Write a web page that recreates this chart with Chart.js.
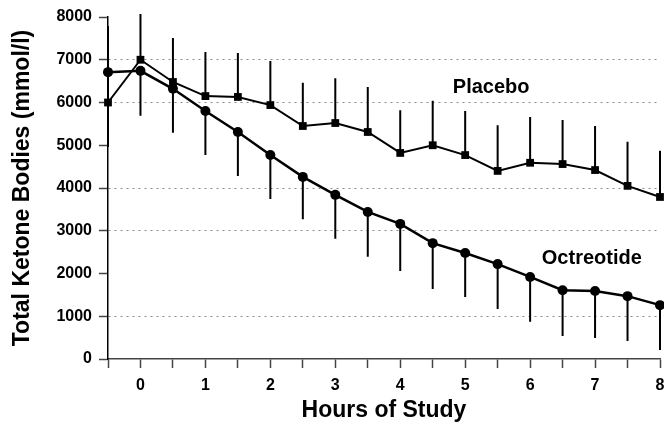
<!DOCTYPE html>
<html>
<head>
<meta charset="utf-8">
<script src="https://cdn.jsdelivr.net/npm/chart.js@4.4.0/dist/chart.umd.min.js"></script>
<style>
    html, body { margin: 0; padding: 0; background: #fff; }
    #wrap { width: 664px; height: 428px; }
</style>
</head>
<body>
<div id="wrap"><canvas id="ketoneChart"></canvas></div>
<script>
    // Hours of study (every half hour)
    const hours = [-0.5, 0, 0.5, 1, 1.5, 2, 2.5, 3, 3.5, 4, 4.5, 5, 5.5, 6, 6.5, 7, 7.5, 8];

    // Placebo means and top of error bars (mmol/l)
    const placebo    = [6000, 7000, 6480, 6150, 6130, 5940, 5450, 5520, 5310, 4820, 5000, 4770, 4400, 4590, 4560, 4420, 4050, 3790];
    const placeboTop = [7790, 8070, 7510, 7180, 7160, 6970, 6460, 6570, 6360, 5820, 6040, 5800, 5470, 5660, 5590, 5450, 5080, 4870];

    // Octreotide means and bottom of error bars (mmol/l)
    const octreotide    = [6710, 6740, 6320, 5800, 5310, 4770, 4260, 3840, 3440, 3160, 2710, 2480, 2220, 1920, 1610, 1590, 1470, 1260];
    const octreotideLow = [4960, 5690, 5290, 4770, 4280, 3740, 3270, 2810, 2390, 2060, 1640, 1450, 1170, 870, 540, 490, 420, 210];

    // Dotted reference lines drawn across the plot
    const refLines = [1000, 3000, 4000, 6000, 7000];

    const FONT = '"Liberation Sans", Arial, sans-serif';

    /**
     * Draws the one-sided error bars under the lines
     */
    const errorBars = {
        id: 'errorBars',
        beforeDatasetsDraw(chart) {
            const ctx = chart.ctx;
            const x = chart.scales.x;
            const y = chart.scales.y;
            ctx.save();
            ctx.strokeStyle = '#000';
            ctx.lineWidth = 2;
            hours.forEach(function(h, i) {
                const px = x.getPixelForValue(h);
                ctx.beginPath();
                ctx.moveTo(px, y.getPixelForValue(placebo[i]));
                ctx.lineTo(px, y.getPixelForValue(placeboTop[i]));
                ctx.moveTo(px, y.getPixelForValue(octreotide[i]));
                ctx.lineTo(px, y.getPixelForValue(octreotideLow[i]));
                ctx.stroke();
            });
            ctx.restore();
        }
    };

    /**
     * Series names written beside the lines
     */
    const seriesLabels = {
        id: 'seriesLabels',
        afterDatasetsDraw(chart) {
            const ctx = chart.ctx;
            const x = chart.scales.x;
            const y = chart.scales.y;
            ctx.save();
            ctx.fillStyle = '#000';
            ctx.font = 'bold 20px ' + FONT;
            ctx.textAlign = 'center';
            ctx.textBaseline = 'middle';
            ctx.fillText('Placebo', x.getPixelForValue(5.4), y.getPixelForValue(6340));
            ctx.fillText('Octreotide', x.getPixelForValue(6.95), y.getPixelForValue(2360));
            ctx.restore();
        }
    };

    new Chart(document.getElementById('ketoneChart'), {
        type: 'line',
        data: {
            datasets: [{
                label: 'Placebo',
                data: hours.map((h, i) => ({ x: h, y: placebo[i] })),
                borderColor: '#000',
                backgroundColor: '#000',
                borderWidth: 2,
                pointStyle: 'rect',
                pointRadius: 5.5,
                pointBorderWidth: 0,
                tension: 0,
                clip: false
            }, {
                label: 'Octreotide',
                data: hours.map((h, i) => ({ x: h, y: octreotide[i] })),
                borderColor: '#000',
                backgroundColor: '#000',
                borderWidth: 2.5,
                pointStyle: 'circle',
                pointRadius: 5,
                pointBorderWidth: 0,
                tension: 0,
                clip: false
            }]
        },
        options: {
            responsive: true,
            maintainAspectRatio: false,
            animation: false,
            layout: { autoPadding: false, padding: { top: 17, right: 0, left: 0, bottom: 0 } },
            plugins: {
                legend: { display: false },
                tooltip: { enabled: false }
            },
            scales: {
                x: {
                    type: 'linear',
                    min: -0.5,
                    max: 8,
                    afterFit: function(scale) {
                        scale.height = 69;
                        scale.paddingRight = 4;
                    },
                    ticks: {
                        stepSize: 0.5,
                        autoSkip: false,
                        maxRotation: 0,
                        padding: 8,
                        color: '#000',
                        font: { family: FONT, size: 16, weight: 'bold' },
                        callback: function(value) {
                            return Number.isInteger(value) ? String(value) : '';
                        }
                    },
                    grid: {
                        drawOnChartArea: false,
                        drawTicks: true,
                        tickLength: 9,
                        tickColor: '#444',
                        tickWidth: 1.5
                    },
                    border: { display: true, color: '#444', width: 1.5 },
                    title: {
                        display: true,
                        text: 'Hours of Study',
                        color: '#000',
                        font: { family: FONT, size: 23, weight: 'bold' },
                        padding: { top: 0, bottom: 4 }
                    }
                },
                y: {
                    min: 0,
                    max: 8000,
                    afterFit: function(scale) { scale.width = 108; },
                    ticks: {
                        stepSize: 1000,
                        padding: 7,
                        color: '#000',
                        font: { family: FONT, size: 16, weight: 'bold' },
                        callback: function(value) { return String(value); }
                    },
                    grid: {
                        drawTicks: true,
                        tickLength: 9,
                        tickColor: '#444',
                        tickWidth: 1.5,
                        lineWidth: 1,
                        color: function(context) {
                            const v = context.tick && context.tick.value;
                            return refLines.indexOf(v) >= 0 ? 'rgba(110, 110, 110, 0.8)' : 'rgba(0, 0, 0, 0)';
                        }
                    },
                    border: { display: true, color: '#000', width: 1.5, dash: [2, 4] },
                    title: {
                        display: true,
                        text: 'Total Ketone Bodies (mmol/l)',
                        color: '#000',
                        font: { family: FONT, size: 23, weight: 'bold' },
                        padding: { top: 9, bottom: 0 }
                    }
                }
            }
        },
        plugins: [errorBars, seriesLabels]
    });
</script>
</body>
</html>
